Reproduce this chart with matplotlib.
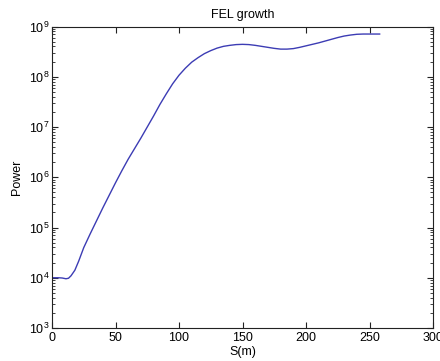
import matplotlib
matplotlib.use("Agg")
import matplotlib.pyplot as plt

s_m = [0, 5, 8, 11, 13, 15, 18, 21, 25, 30, 35, 40, 45, 50, 55, 60, 65, 70,
       75, 80, 85, 90, 95, 100, 105, 110, 115, 120, 125, 130, 135, 140, 145,
       150, 155, 160, 165, 170, 175, 180, 185, 190, 195, 200, 205, 210, 215,
       220, 225, 230, 235, 240, 245, 250, 258]
log_power = [4.0, 4.0, 3.995, 3.98, 3.99, 4.04, 4.15, 4.33, 4.6, 4.87, 5.13,
             5.39, 5.64, 5.89, 6.13, 6.36, 6.57, 6.78, 7.0, 7.22, 7.45, 7.66,
             7.86, 8.03, 8.17, 8.29, 8.38, 8.46, 8.52, 8.57, 8.605, 8.625,
             8.64, 8.645, 8.64, 8.625, 8.605, 8.585, 8.565, 8.55, 8.55, 8.56,
             8.585, 8.615, 8.645, 8.675, 8.71, 8.745, 8.78, 8.81, 8.83, 8.845,
             8.85, 8.85, 8.85]
power = [10 ** v for v in log_power]

plt.rcParams['font.family'] = ['Liberation Sans', 'DejaVu Sans']
plt.rcParams['mathtext.fontset'] = 'custom'
plt.rcParams['mathtext.rm'] = 'Liberation Sans'
plt.rcParams['mathtext.it'] = 'Liberation Sans'
plt.rcParams['mathtext.default'] = 'regular'

fig = plt.figure(figsize=(4.4, 3.61), dpi=100)
ax = fig.add_axes([52/440, 1-328/361, (433-52)/440, (328-26.5)/361])
ax.plot(s_m, power, color='#3c3cb4', lw=1.0)
ax.set_yscale('log')
ax.set_xlim(0, 300)
ax.set_ylim(1e3, 1e9)
ax.set_xticks([0, 50, 100, 150, 200, 250, 300])
ax.set_yticks([1e3, 1e4, 1e5, 1e6, 1e7, 1e8, 1e9])
ax.tick_params(which='both', direction='in', top=True, right=True, labelsize=9, color='#222222')
ax.tick_params(which='major', length=4, width=0.8)
ax.tick_params(which='minor', length=2, width=0.6)
ax.tick_params(axis='x', which='minor', bottom=False, top=False)
ax.tick_params(axis='x', pad=3)
ax.tick_params(axis='y', pad=2)
for sp in ax.spines.values():
    sp.set_linewidth(0.8)
    sp.set_color('#222222')
ax.set_title('FEL growth', fontsize=9, pad=6)
ax.set_xlabel('S(m)', fontsize=9, labelpad=1)
ax.set_ylabel('Power', fontsize=9, labelpad=4)
fig.savefig('out.png', dpi=100)
